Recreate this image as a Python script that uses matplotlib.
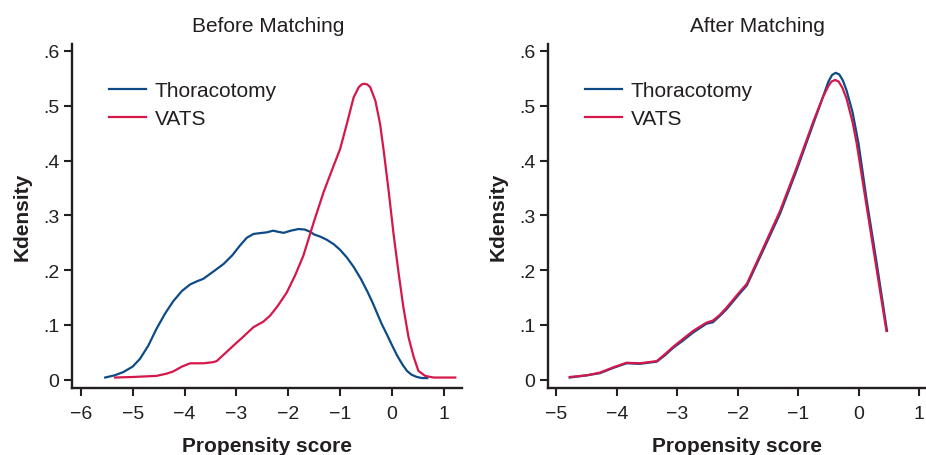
import matplotlib
matplotlib.use("Agg")
import matplotlib.pyplot as plt

plt.rcParams['font.family'] = ['Liberation Sans', 'DejaVu Sans']

# ---------------- data ----------------
before_thor_x = [-5.53, -5.35, -5.18, -5.0, -4.86, -4.7, -4.54, -4.38, -4.22, -4.05, -3.89, -3.75,
                 -3.64, -3.45, -3.25, -3.08, -2.93, -2.80, -2.67, -2.50, -2.41, -2.29, -2.20, -2.09,
                 -1.95, -1.80, -1.68, -1.58, -1.50, -1.38, -1.25, -1.12, -1.00, -0.87, -0.74, -0.60,
                 -0.48, -0.38, -0.29, -0.20, -0.10, 0.0, 0.10, 0.20, 0.29, 0.38, 0.48, 0.58, 0.68]
before_thor_y = [0.004, 0.008, 0.014, 0.024, 0.038, 0.062, 0.093, 0.120, 0.143, 0.162, 0.174, 0.180,
                 0.184, 0.197, 0.211, 0.227, 0.245, 0.259, 0.266, 0.268, 0.269, 0.272, 0.270, 0.268,
                 0.272, 0.275, 0.274, 0.270, 0.265, 0.261, 0.255, 0.247, 0.237, 0.223, 0.206, 0.184,
                 0.162, 0.142, 0.122, 0.102, 0.083, 0.063, 0.044, 0.028, 0.016, 0.009, 0.005, 0.003, 0.003]

before_vats_x = [-5.34, -5.0, -4.54, -4.35, -4.22, -4.05, -3.89, -3.64, -3.45, -3.38, -3.22, -3.06,
                 -2.85, -2.67, -2.48, -2.35, -2.20, -2.03, -1.87, -1.71, -1.51, -1.32, -1.16, -1.00,
                 -0.87, -0.74, -0.64, -0.58, -0.535, -0.48, -0.42, -0.32, -0.23, -0.16, -0.065, 0.03,
                 0.13, 0.22, 0.32, 0.42, 0.51, 0.64, 0.80, 1.22]
before_vats_y = [0.004, 0.005, 0.007, 0.011, 0.015, 0.024, 0.030, 0.030, 0.032, 0.034, 0.048, 0.062,
                 0.080, 0.096, 0.106, 0.117, 0.135, 0.159, 0.190, 0.226, 0.287, 0.342, 0.382, 0.421,
                 0.467, 0.515, 0.534, 0.539, 0.540, 0.539, 0.534, 0.509, 0.467, 0.418, 0.345, 0.266,
                 0.193, 0.132, 0.077, 0.041, 0.016, 0.007, 0.004, 0.004]

after_thor_x = [-4.78, -4.5, -4.28, -4.05, -3.84, -3.62, -3.34, -3.2, -3.07, -2.90, -2.74, -2.52,
                -2.41, -2.30, -2.19, -1.97, -1.85, -1.58, -1.30, -1.03, -0.75, -0.59, -0.50, -0.44,
                -0.38, -0.32, -0.26, -0.20, -0.10, 0.0, 0.13, 0.30, 0.47]
after_thor_y = [0.004, 0.008, 0.012, 0.022, 0.030, 0.029, 0.033, 0.045, 0.058, 0.072, 0.086, 0.102,
                0.105, 0.116, 0.128, 0.157, 0.172, 0.236, 0.303, 0.381, 0.467, 0.516, 0.544, 0.556,
                0.560, 0.557, 0.546, 0.528, 0.488, 0.430, 0.330, 0.212, 0.089]

after_vats_x = [-4.78, -4.5, -4.28, -4.05, -3.84, -3.62, -3.34, -3.2, -3.07, -2.90, -2.74, -2.52,
                -2.41, -2.30, -2.19, -1.97, -1.85, -1.58, -1.30, -1.03, -0.75, -0.59, -0.50, -0.45,
                -0.39, -0.33, -0.27, -0.20, -0.10, -0.03, 0.13, 0.30, 0.46]
after_vats_y = [0.005, 0.008, 0.013, 0.023, 0.031, 0.030, 0.034, 0.047, 0.060, 0.075, 0.089, 0.104,
                0.108, 0.118, 0.131, 0.160, 0.175, 0.240, 0.308, 0.386, 0.471, 0.516, 0.536, 0.544,
                0.547, 0.544, 0.533, 0.513, 0.470, 0.430, 0.318, 0.200, 0.089]

series_labels = ["Thoracotomy", "VATS"]
panel_titles = ["Before Matching", "After Matching"]
y_ticks = [0, 0.1, 0.2, 0.3, 0.4, 0.5, 0.6]
y_tick_labels = ["0", ".1", ".2", ".3", ".4", ".5", ".6"]
left_x_ticks = [-6, -5, -4, -3, -2, -1, 0, 1]
right_x_ticks = [-5, -4, -3, -2, -1, 0, 1]
x_label = "Propensity score"
y_label = "Kdensity"

# ---------------- style ----------------
W, H = 926, 456
BLUE = "#0d4b86"
RED = "#d5174b"
DARK = "#231f20"
TXT = "#231f20"

fig = plt.figure(figsize=(W / 100, H / 100), dpi=100)

def px_axes(x0, x1, ytop, ybot):
    return fig.add_axes([x0 / W, 1 - ybot / H, (x1 - x0) / W, (ybot - ytop) / H])

axL = px_axes(72, 462, 45, 389)
axR = px_axes(548, 926, 45, 389)

panels = [
    (axL, before_thor_x, before_thor_y, before_vats_x, before_vats_y, left_x_ticks, (-6.17, 1.35)),
    (axR, after_thor_x, after_thor_y, after_vats_x, after_vats_y, right_x_ticks, (-5.14, 1.115)),
]

for ax, tx, ty, vx, vy, xt, xl in panels:
    ax.plot(tx, ty, color=BLUE, lw=1.6, label=series_labels[0], solid_joinstyle='round')
    ax.plot(vx, vy, color=RED, lw=1.6, label=series_labels[1], solid_joinstyle='round')
    ax.set_xlim(*xl)
    ax.set_ylim(-0.0151, 0.6126)
    ax.set_xticks(xt)
    ax.set_xticklabels([("\u2212" + str(abs(v))) if v < 0 else str(v) for v in xt])
    ax.set_yticks(y_ticks)
    ax.set_yticklabels(y_tick_labels)
    for s in ["top", "right"]:
        ax.spines[s].set_visible(False)
    for s in ["left", "bottom"]:
        ax.spines[s].set_linewidth(1.7)
        ax.spines[s].set_color(DARK)
    ax.tick_params(axis='both', direction='out', length=6, width=1.5, color=DARK,
                   labelsize=14, labelcolor=TXT)
    ax.tick_params(axis='x', pad=6)
    ax.tick_params(axis='y', pad=3)
    ax.set_xlabel(x_label, fontsize=15, fontweight='bold', color=TXT, labelpad=10)
    ax.set_ylabel(y_label, fontsize=15, fontweight='bold', color=TXT, labelpad=8)
    ax.patch.set_visible(False)
    ax.legend(loc='upper left', bbox_to_anchor=(0.095 if ax is axL else 0.098, 0.893),
              frameon=False, fontsize=15, handlelength=1.75, handletextpad=0.45,
              labelspacing=0.45, borderpad=0, borderaxespad=0,
              labelcolor=TXT)

fig.text(268 / W, 1 - 27 / H, panel_titles[0], ha='center', va='center', fontsize=15, color=TXT)
fig.text(757 / W, 1 - 27 / H, panel_titles[1], ha='center', va='center', fontsize=15, color=TXT)

fig.savefig("out.png", dpi=100)
